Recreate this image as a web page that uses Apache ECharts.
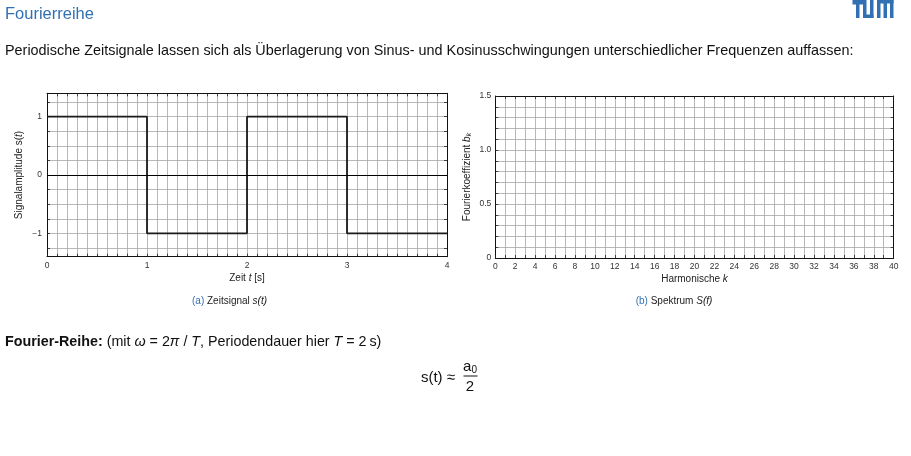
<!DOCTYPE html>
<html><head><meta charset="utf-8">
<script src="https://cdn.jsdelivr.net/npm/echarts@6/dist/echarts.min.js"></script>
<style>html,body{margin:0;padding:0;background:#fff}#c{width:911px;height:456px}</style>
</head><body><div id="c"></div>
<script>
// ---- data ----
const timeS = [0, 1, 1, 2, 2, 3, 3, 4];
const signalS = [1, 1, -1, -1, 1, 1, -1, -1];
const leftYTicks = [-1.25, -1, -0.75, -0.5, -0.25, 0, 0.25, 0.5, 0.75, 1, 1.25];
const leftYLabels = [-1, 0, 1];
const harmonicK = [];
const coeffB = [];

const FF = '"Liberation Sans", Arial, Helvetica, sans-serif';
const GRIDC = '#a6a6a6';
const TICKC = '#222';
const FRAMEC = '#111';
const TUMBLUE = '#3070b3';

const chart = echarts.init(document.getElementById('c'), null, {renderer: 'canvas'});

function frame(extra) {
  const base = {
    type: 'value',
    axisLine: {show: true, onZero: false, lineStyle: {color: FRAMEC, width: 1}},
    axisTick: {show: true, inside: true, length: 3, lineStyle: {color: TICKC, width: 0.8}},
    minorTick: {show: false},
    splitLine: {show: false},
    minorSplitLine: {show: false},
    axisLabel: {show: false}
  };
  return Object.assign(base, extra);
}
const lbl = (extra) => Object.assign({show: true, fontSize: 8.5, color: '#333', fontFamily: FF}, extra || {});
const gridLine = {show: true, lineStyle: {color: GRIDC, width: 0.8}};
const nameStyle = {fontSize: 10, color: '#222', fontFamily: FF,
  rich: {i: {fontStyle: 'italic', fontSize: 10, fontFamily: FF, color: '#222'},
         s: {fontStyle: 'italic', fontSize: 7, fontFamily: FF, color: '#222', padding: [0, 0, -4, 0]}}};

const minus = v => v < 0 ? '\u2212' + Math.abs(v) : String(v);

const option = {
  animation: false,
  backgroundColor: '#fff',
  grid: [
    {left: 47, top: 93.3, width: 400, height: 163.4},
    {left: 495.3, top: 96, width: 398.4, height: 162}
  ],
  xAxis: [
    frame({gridIndex: 0, position: 'bottom', min: 0, max: 4, interval: 1,
      minorTick: {show: true, splitNumber: 10, length: 3, lineStyle: {color: TICKC, width: 0.8}},
      splitLine: gridLine, minorSplitLine: gridLine,
      axisLabel: lbl({margin: 4}),
      name: 'Zeit {i|t} [s]', nameLocation: 'middle', nameGap: 16.5, nameTextStyle: nameStyle}),
    frame({gridIndex: 0, position: 'top', min: 0, max: 4, interval: 1,
      minorTick: {show: true, splitNumber: 10, length: 3, lineStyle: {color: TICKC, width: 0.8}}}),
    frame({gridIndex: 1, position: 'bottom', min: 0, max: 40, interval: 2,
      minorTick: {show: true, splitNumber: 2, length: 3, lineStyle: {color: TICKC, width: 0.8}},
      splitLine: gridLine, minorSplitLine: gridLine,
      axisLabel: lbl({margin: 4}),
      name: 'Harmonische {i|k}', nameLocation: 'middle', nameGap: 16, nameTextStyle: nameStyle}),
    frame({gridIndex: 1, position: 'top', min: 0, max: 40, interval: 2,
      minorTick: {show: true, splitNumber: 2, length: 3, lineStyle: {color: TICKC, width: 0.8}}})
  ],
  yAxis: [
    frame({gridIndex: 0, position: 'left', min: -1.4, max: 1.4,
      axisTick: {show: true, inside: true, length: 3, customValues: leftYTicks, lineStyle: {color: TICKC, width: 0.8}},
      splitLine: gridLine,
      axisLabel: lbl({customValues: leftYLabels, margin: 5, formatter: minus}),
      name: 'Signalamplitude s({i|t})', nameLocation: 'middle', nameGap: 23, nameTextStyle: nameStyle}),
    frame({gridIndex: 0, position: 'right', min: -1.4, max: 1.4,
      axisTick: {show: true, inside: true, length: 3, customValues: leftYTicks, lineStyle: {color: TICKC, width: 0.8}}}),
    frame({gridIndex: 1, position: 'left', min: 0, max: 1.5, interval: 0.5,
      minorTick: {show: true, splitNumber: 5, length: 3, lineStyle: {color: TICKC, width: 0.8}},
      splitLine: gridLine, minorSplitLine: gridLine,
      axisLabel: lbl({margin: 4, formatter: v => v === 0 ? '0' : v.toFixed(1)}),
      name: 'Fourierkoeffizient {i|b}{s|k}', nameLocation: 'middle', nameGap: 23, nameTextStyle: nameStyle}),
    frame({gridIndex: 1, position: 'right', min: 0, max: 1.5, interval: 0.5,
      minorTick: {show: true, splitNumber: 5, length: 3, lineStyle: {color: TICKC, width: 0.8}}})
  ],
  series: [
    {type: 'line', xAxisIndex: 0, yAxisIndex: 0, symbol: 'none',
      data: timeS.map((t, i) => [t, signalS[i]]),
      lineStyle: {color: '#1a1a1a', width: 1.8},
      markLine: {silent: true, symbol: 'none', label: {show: false},
        lineStyle: {color: '#000', width: 1.2, type: 'solid'}, data: [{yAxis: 0}]}},
    {type: 'scatter', xAxisIndex: 2, yAxisIndex: 2, symbolSize: 4,
      data: harmonicK.map((k, i) => [k, coeffB[i]])}
  ],
  graphic: [
    {type: 'text', x: 5, y: 14, style: {text: 'Fourierreihe', fontSize: 16.5, fontFamily: FF, fill: TUMBLUE, verticalAlign: 'middle'}},
    {type: 'text', x: 5, y: 51, style: {text: 'Periodische Zeitsignale lassen sich als \u00dcberlagerung von Sinus- und Kosinusschwingungen unterschiedlicher Frequenzen auffassen:', fontSize: 14.4, fontFamily: FF, fill: '#111', verticalAlign: 'middle'}},
    // TUM logo
    {type: 'group', x: 852.5, y: 0, children: [
      {type: 'rect', shape: {x: 0, y: 0, width: 10.5, height: 4.5}, style: {fill: TUMBLUE}},
      {type: 'rect', shape: {x: 3.5, y: 0, width: 3.5, height: 18}, style: {fill: TUMBLUE}},
      {type: 'rect', shape: {x: 10.5, y: 0, width: 3.5, height: 18}, style: {fill: TUMBLUE}},
      {type: 'rect', shape: {x: 10.5, y: 14.5, width: 10.5, height: 3.5}, style: {fill: TUMBLUE}},
      {type: 'rect', shape: {x: 17.5, y: 0, width: 3.5, height: 18}, style: {fill: TUMBLUE}},
      {type: 'rect', shape: {x: 24.5, y: 0, width: 16.5, height: 3.5}, style: {fill: TUMBLUE}},
      {type: 'rect', shape: {x: 24.5, y: 0, width: 3.5, height: 18}, style: {fill: TUMBLUE}},
      {type: 'rect', shape: {x: 31, y: 0, width: 3.5, height: 18}, style: {fill: TUMBLUE}},
      {type: 'rect', shape: {x: 37.5, y: 0, width: 3.5, height: 18}, style: {fill: TUMBLUE}}
    ]},
    // captions
    {type: 'text', x: 229.5, y: 301, style: {text: '{b|(a)} Zeitsignal {i|s(t)}', fontSize: 10, fontFamily: FF, fill: '#222', align: 'center', verticalAlign: 'middle',
      rich: {b: {fill: TUMBLUE, fontSize: 10, fontFamily: FF}, i: {fontStyle: 'italic', fontSize: 10, fontFamily: FF, fill: '#222'}}}},
    {type: 'text', x: 674, y: 301, style: {text: '{b|(b)} Spektrum {i|S(f)}', fontSize: 10, fontFamily: FF, fill: '#222', align: 'center', verticalAlign: 'middle',
      rich: {b: {fill: TUMBLUE, fontSize: 10, fontFamily: FF}, i: {fontStyle: 'italic', fontSize: 10, fontFamily: FF, fill: '#222'}}}},
    // Fourier-Reihe line
    {type: 'text', x: 5, y: 342, style: {text: '{b|Fourier-Reihe:} (mit {i|\u03c9} = 2{i|\u03c0} / {i|T}, Periodendauer hier {i|T} = 2\u2009s)', fontSize: 14.3, fontFamily: FF, fill: '#111', verticalAlign: 'middle',
      rich: {b: {fontWeight: 'bold', fontSize: 14.3, fontFamily: FF, fill: '#111'}, i: {fontStyle: 'italic', fontSize: 14.3, fontFamily: FF, fill: '#111'}}}},
    // formula
    {type: 'text', x: 455, y: 378, style: {text: 's(t) \u2248', fontSize: 15, fontFamily: FF, fill: '#111', align: 'right', verticalAlign: 'middle'}},
    {type: 'text', x: 470, y: 367, style: {text: 'a{s|0}', fontSize: 15, fontFamily: FF, fill: '#111', align: 'center', verticalAlign: 'middle',
      rich: {s: {fontSize: 10, fontFamily: FF, fill: '#111', padding: [6, 0, 0, 0]}}}},
    {type: 'line', shape: {x1: 463.5, y1: 376, x2: 477.5, y2: 376}, style: {stroke: '#111', lineWidth: 1}},
    {type: 'text', x: 470, y: 386.5, style: {text: '2', fontSize: 15, fontFamily: FF, fill: '#111', align: 'center', verticalAlign: 'middle'}}
  ]
};
chart.setOption(option);
</script>
</body></html>
